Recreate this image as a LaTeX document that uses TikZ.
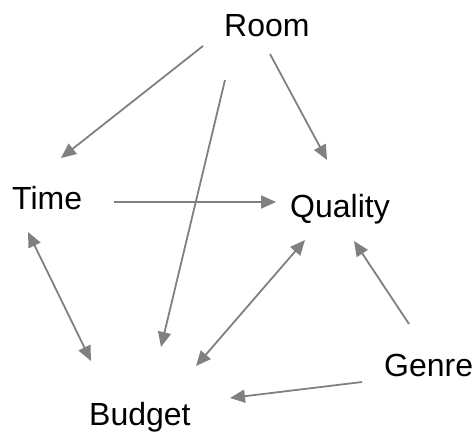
\documentclass[tikz,border=0pt]{standalone}
\usepackage{fontspec}
\setmainfont{Liberation Sans}
\usetikzlibrary{arrows.meta,calc}
\definecolor{linkgray}{RGB}{128,128,128}

\tikzset{
  factor/.style={anchor=base west,inner sep=0pt,font=\fontsize{32}{38}\selectfont},
  link/.style={draw=linkgray,line width=1.8pt,-{Triangle[length=15pt,width=13pt]}},
  both/.style={link,{Triangle[length=15pt,width=13pt]}-{Triangle[length=15pt,width=13pt]}}
}

\begin{document}
\begin{tikzpicture}[x=1pt,y=-1pt]
  \useasboundingbox (0,0) rectangle (474,432);
  \node[factor] (room) at (224,36) {Room};
  \node[factor] (time) at (12,209) {Time};
  \node[factor] (quality) at (290,217) {Quality};
  \node[factor] (genre) at (384,376) {Genre};
  \node[factor] (budget) at (89,425) {Budget};

  % room feeds the three others
  \draw[link] ($(room.base west)+(-21,10)$) -- ($(time.base west)+(49,-51)$);
  \draw[link] ($(room.base west)+(1,44)$) -- ($(budget.base west)+(72,-78)$);
  \draw[link] ($(room.base west)+(46,18)$) -- ($(quality.base west)+(37,-57)$);
  \draw[link] ($(time.base west)+(102,-7)$) -- ($(quality.base west)+(-14,-15)$);
  % two-way links
  \draw[both] ($(time.base west)+(16,23)$) -- ($(budget.base west)+(2,-64)$);
  \draw[both] ($(quality.base west)+(15,23)$) -- ($(budget.base west)+(107,-59)$);
  % genre
  \draw[link] ($(genre.base west)+(25,-52)$) -- ($(quality.base west)+(64,24)$);
  \draw[link] ($(genre.base west)+(-22,6)$) -- ($(budget.base west)+(141,-27)$);
\end{tikzpicture}
\end{document}
